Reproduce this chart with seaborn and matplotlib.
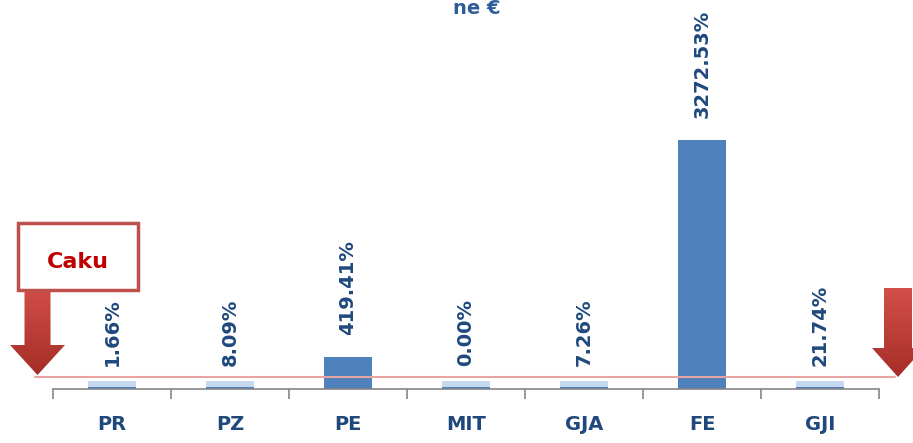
import numpy as np
import pandas as pd
import matplotlib
matplotlib.use("Agg")
import matplotlib.pyplot as plt
import seaborn as sns
from matplotlib.patches import Polygon, Rectangle

# data
categories = ["PR", "PZ", "PE", "MIT", "GJA", "FE", "GJI"]
pct_values = [1.66, 8.09, 419.41, 0.00, 7.26, 3272.53, 21.74]
# drawn bar heights (small ones are shown with a minimum height in the original)
bar_heights = [105, 105, 419.41, 105, 105, 3272.53, 105]
base_strip = [25, 25, 0, 25, 25, 0, 25]
threshold = 158   # red "Caku" line

dark_blue = "#4F81BD"
light_blue = "#C6D9F1"
text_blue = "#1F497D"

sns.set_style("white")
plt.rcParams['font.family'] = ['DejaVu Sans']

df = pd.DataFrame({"cat": categories, "pct": pct_values, "h": bar_heights, "strip": base_strip})
df["group"] = np.where(df["pct"] > threshold, "above", "below")

fig = plt.figure(figsize=(9.13, 4.43), dpi=100)
ax = fig.add_axes([53 / 913, 1 - 389 / 443, 826 / 913, 389 / 443])

sns.barplot(data=df, x="cat", y="h", hue="group", palette={"above": dark_blue, "below": light_blue},
            width=0.4, dodge=False, legend=False, ax=ax, linewidth=0, saturation=1)
sns.barplot(data=df, x="cat", y="strip", color=dark_blue, width=0.4, ax=ax, linewidth=0, saturation=1)

# value labels
for i, row in df.iterrows():
    off = 16 if row["group"] == "above" else 11
    ax.annotate(f"{row['pct']:.2f}%", (i, row["h"]), xytext=(0, off), textcoords="offset points",
                rotation=90, ha="center", va="bottom", fontsize=14, fontweight="bold", color=text_blue)

# threshold line
ax.axhline(threshold, xmin=-0.022, xmax=1.019, color="#E8A3A3", lw=1.5, clip_on=False, zorder=5)

ax.set_xlim(-0.5, 6.5)
ax.set_ylim(0, 5110)
ax.set_xlabel("")
ax.set_ylabel("")
ax.set_yticks([])
ax.set_xticks(range(len(categories)))
ax.set_xticklabels(categories, fontsize=14, fontweight="bold", color=text_blue)
ax.set_xticks(np.arange(-0.5, 7, 1), minor=True)
ax.tick_params(axis="x", which="major", bottom=True, length=0, pad=19)
ax.tick_params(axis="x", which="minor", bottom=True, length=7, width=1.2, color="#868686", direction="out")
for s in ["left", "right", "top"]:
    ax.spines[s].set_visible(False)
ax.spines["bottom"].set_color("#868686")
ax.spines["bottom"].set_linewidth(1.2)

fig.text(477 / 913, 1 - 14 / 443, "ne €", ha="center", va="baseline", fontsize=14,
         fontweight="bold", color="#2E5C9A")

# decorations: arrows and label box, in pixel coordinates
ov = fig.add_axes([0, 0, 1, 1], zorder=10)
ov.axis("off")
ov.patch.set_alpha(0)

grad = np.linspace(0, 1, 256).reshape(-1, 1)
cmap = matplotlib.colors.LinearSegmentedColormap.from_list("redg", ["#D4504A", "#A52D27"])


def down_arrow(cx, top, head_y, tip, shaft_hw, head_hw):
    pts = [(cx - shaft_hw, top), (cx + shaft_hw, top), (cx + shaft_hw, head_y), (cx + head_hw, head_y),
           (cx, tip), (cx - head_hw, head_y), (cx - shaft_hw, head_y)]
    poly = Polygon(pts, closed=True, facecolor="none", edgecolor="none")
    ov.add_patch(poly)
    im = ov.imshow(grad, extent=(cx - head_hw, cx + head_hw, tip, top), cmap=cmap, aspect="auto")
    im.set_clip_path(poly)


down_arrow(37.5, 283, 345, 375, 13, 27.5)
down_arrow(898, 288, 348, 377, 14, 26)
ov.set_xlim(0, 913)
ov.set_ylim(443, 0)

ov.add_patch(Rectangle((18, 223), 120, 67, facecolor="white", edgecolor="#C0504D", lw=2.5))
ov.text(78, 262, "Caku", ha="center", va="center", fontsize=16, fontweight="bold", color="#C00000")

fig.savefig("out.png", dpi=100)
